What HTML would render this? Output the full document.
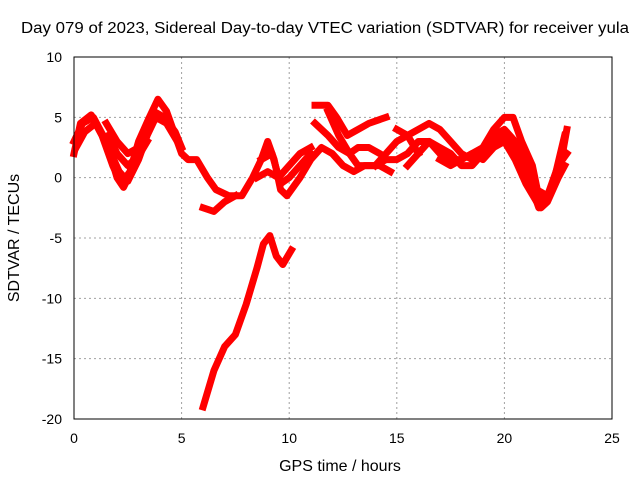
<!DOCTYPE html>
<html><head><meta charset="utf-8"><style>
body{margin:0;background:#fff}
svg{display:block;font-family:"Liberation Sans",sans-serif}
</style></head><body>
<svg id="chart" width="640" height="480">
<text x="325" y="33" font-size="15.5" text-anchor="middle" textLength="608" lengthAdjust="spacingAndGlyphs">Day 079 of 2023, Sidereal Day-to-day VTEC variation (SDTVAR) for receiver yula</text>
<text x="340" y="471" font-size="16" text-anchor="middle">GPS time / hours</text>
<text transform="translate(19,238) rotate(-90)" font-size="16" text-anchor="middle">SDTVAR / TECUs</text>
<g id="grid"></g><g id="ticks"></g><g id="series"></g>
<rect x="74" y="57" width="538" height="362" fill="none" stroke="#000"/>
</svg>
<script>
const xTicks=[0,5,10,15,20,25];
const yTicks=[10,5,0,-5,-10,-15,-20];
const trackA=[[0,2],[0.3,4.5],[0.8,5.2],[1.3,3.5],[1.8,1],[2.2,-0.5],[2.6,0.5],[3,3],[3.5,5],[3.9,6.5],[4.3,5.5],[4.7,3.5],[5,2],[5.3,1.5],[5.7,1.5],[6.2,0],[6.6,-1],[7.2,-1.5],[7.8,-1.5],[8.3,0],[8.7,1.5],[9,3],[9.3,1.5],[9.6,-1],[9.9,-1.5],[10.5,0],[11,1.5],[11.5,2.5],[12,2],[12.5,1],[13,0.5],[13.5,1],[14,1],[14.5,1.5],[15,1.5],[15.5,2],[16,3],[16.5,3],[17,2],[17.5,1.5],[18,1.5],[18.5,2],[19,2.5],[19.5,3.5],[20,4],[20.5,3],[21,1],[21.5,-1],[22,-1.5],[22.3,-0.5],[22.7,2],[22.9,4]];
const trackB=[[0,3],[0.4,4.5],[0.9,5],[1.5,3],[2,0],[2.3,-0.8],[2.8,1],[3.2,3],[3.7,5.5],[4.2,5],[4.7,3.8],[5,2.5]];
const trackB2=[[0.1,2.5],[0.5,3.8],[1,4.5],[1.6,2.5],[2.1,0.5],[2.5,-0.3],[3,1.5],[3.4,3.5],[3.8,5],[4.3,4.5],[4.8,3]];
const trackC=[[1.5,4.5],[2,3],[2.5,2],[3,2.5],[3.5,4]];
const trackC2=[[1.6,3.5],[2,2],[2.5,1],[3,1.8],[3.4,3]];
const trackD=[[6,-2.5],[6.5,-2.8],[7,-2],[7.5,-1.5]];
const trackE=[[6,-19],[6.5,-16],[7,-14],[7.5,-13],[8,-10.5],[8.5,-7.5],[8.8,-5.5],[9.1,-4.8],[9.4,-6.5],[9.7,-7.2],[10.1,-6]];
const trackF=[[8.5,0],[9,0.5],[9.5,0],[10,1],[10.5,2],[11,2.5]];
const trackF2=[[8.7,1.5],[9.2,2],[9.6,-0.5],[10,0],[10.5,1],[11,2]];
const trackG=[[11.2,6],[11.8,6],[12.2,5],[12.7,3.5],[13.2,4],[13.7,4.5],[14.5,5]];
const trackH=[[11.2,4.5],[11.8,3.5],[12.3,2.5],[12.8,2],[13.2,2.5],[13.7,2.5],[14.2,2]];
const trackI=[[11.8,5.5],[12.3,3.5],[12.8,2],[13.2,1],[13.7,1],[14.2,1],[14.7,0.5]];
const trackJ=[[15,4],[15.5,3.5],[16,4],[16.5,4.5],[17,4],[17.5,3],[18,2],[18.5,1.5],[19,2.5],[19.5,4],[20,5],[20.4,5],[20.8,3],[21.3,1],[21.7,-2.5],[22,-2],[22.5,0],[22.8,1]];
const trackK=[[15.5,1],[16,2],[16.5,3],[17,2.5],[17.5,2],[18,1],[18.5,1],[19,2],[19.5,3],[20,3.5],[20.5,2],[21,0.5],[21.6,-2.5],[22.2,-1],[22.8,3.5]];
const trackK2=[[17,1.5],[17.5,1],[18,1.5],[18.5,2],[19,1.5],[19.5,2.5],[20,3],[20.5,1.5],[21,-0.5],[21.5,-2],[22,-1.5],[22.5,1],[22.9,2]];
const trackL=[[14,1],[14.5,2],[15,3],[15.5,3.5],[16,2]];
const tracks=[trackA,trackB,trackB2,trackC,trackC2,trackD,trackE,trackF,trackF2,trackG,trackH,trackI,trackJ,trackK,trackK2,trackL];
const NS="http://www.w3.org/2000/svg";
const X=v=>74+v*538/25, Y=v=>57+(10-v)*362/30;
const grid=document.getElementById('grid'),ticks=document.getElementById('ticks'),ser=document.getElementById('series');
function mk(t,a,p){const e=document.createElementNS(NS,t);for(const k in a)e.setAttribute(k,a[k]);p.appendChild(e);return e;}
xTicks.forEach(v=>{
 if(v>0&&v<25){const g=mk('line',{x1:X(v),x2:X(v),y1:57,y2:419,stroke:'#a0a0a0','stroke-dasharray':'2,3'},grid);
 
 }
 const t=mk('text',{x:X(v),y:443,'font-size':14,'text-anchor':'middle'},ticks);t.textContent=v;
 
 
});
yTicks.forEach(v=>{
 if(v<10&&v>-20){const g=mk('line',{x1:74,x2:612,y1:Y(v),y2:Y(v),stroke:'#a0a0a0','stroke-dasharray':'2,3'},grid);
 
 }
 const t=mk('text',{x:62,y:Y(v)+5,'font-size':14,'text-anchor':'end'},ticks);t.textContent=v;
 
 
});
tracks.forEach(tr=>{
 const p=mk('polyline',{points:tr.map(d=>X(d[0])+','+Y(d[1])).join(' '),fill:'none',stroke:'#f00','stroke-width':7,'stroke-linejoin':'round','stroke-linecap':'square'},ser);
 
 
});
</script>
</body></html>
